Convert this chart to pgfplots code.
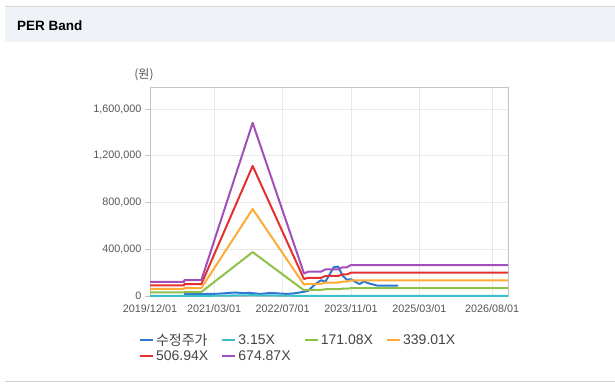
\documentclass[border=0pt]{standalone}
\usepackage{fontspec}
\setmainfont{Liberation Sans}
\newfontfamily\kr{Noto Sans CJK KR}
\usepackage{pgfplots}
\pgfplotsset{compat=1.18}
\usepackage{pgfplotstable}
\definecolor{cPrice}{HTML}{2F77D0}
\definecolor{cCyan}{HTML}{3BBFCB}
\definecolor{cGreen}{HTML}{8DC14A}
\definecolor{cOrange}{HTML}{FFAB38}
\definecolor{cRed}{HTML}{E3312F}
\definecolor{cPurple}{HTML}{A050B8}
\definecolor{titlebg}{HTML}{EFF2F7}
\definecolor{titleline}{HTML}{D2D2D2}
\definecolor{gridc}{HTML}{E8E8E8}
\definecolor{axisc}{HTML}{C4C4C4}
\definecolor{tickgray}{HTML}{555555}
\definecolor{legtext}{HTML}{444444}

\pgfplotstableread{
m b1 b2 b3 b4 b5
0 567 30794 61022 91249 121477
8 567 30794 61022 91249 121477
8 630 34216 67802 101388 134974
12 630 34216 67802 101388 134974
24 6921 375863 744805 1113747 1482689
36 904 49100 97296 145492 193688
37 970 52693 104415 156138 207860
40 970 52693 104415 156138 207860
41 1065 57825 114585 171346 228106
44 1065 57825 114585 171346 228106
45 1147 62273 123400 184526 245653
46 1147 62273 123400 184526 245653
47 1238 67234 133231 199227 265224
83.7 1238 67234 133231 199227 265224
}\bands

\pgfplotstableread{
m p
8 18000
9 17000
10 17000
11 16000
12 16000
13 17000
14 18000
15 18000
16 20000
17 22000
18 25000
19 28000
20 30000
21 27000
22 25000
23 28000
24 24000
25 20000
26 18000
27 22000
28 26000
29 25000
30 22000
31 20000
32 18000
33 20000
34 24000
35 30000
36 36000
37 45000
38 80000
39 112000
40 135000
41 122000
42 185000
43 248000
44 252000
45 175000
46 140000
47 143000
48 122000
49 102000
50 125000
51 110000
52 100000
53 90000
54 88000
55 88000
56 88000
57 88000
58 88000
}\price

\begin{document}
\begin{tikzpicture}
\path[use as bounding box] (0pt,0pt) rectangle (615pt,387pt);
\fill[titlebg] (5pt,345pt) rectangle (615pt,380pt);
\draw[titleline] (5pt,380.5pt) -- (615pt,380.5pt);
\node[anchor=west, font=\bfseries\fontsize{13.5}{15}\selectfont, inner sep=0pt] at (17pt,361pt) {PER Band};
\draw[titleline] (5pt,6pt) -- (615pt,6pt);
\node[font=\kr\fontsize{12}{14}\selectfont, text=tickgray] at (144pt,312pt) {(원)};
\begin{axis}[
  at={(150pt,91pt)}, anchor=south west,
  width=358pt, height=209pt, scale only axis,
  xmin=0, xmax=83.7, ymin=0, ymax=1790000,
  scaled y ticks=false,
  /pgf/number format/assume math mode=true,
  xtick={0,15,31,47,63,80},
  xticklabels={2019/12/01,2021/03/01,2022/07/01,2023/11/01,2025/03/01,2026/08/01},
  ytick={0,400000,800000,1200000,1600000},
  yticklabels={0,{400,000},{800,000},{1,200,000},{1,600,000}},
  grid=major, major grid style={draw=gridc, line width=0.8pt},
  axis line style={draw=axisc, line width=0.8pt},
  tick style={draw=axisc, line width=0.8pt}, tick align=outside, major tick length=5pt,
  xtick pos=bottom, ytick pos=left,
  xtick style={draw=none},
  ticklabel style={font=\fontsize{10.8}{12}\selectfont, text=tickgray},
  clip=false,
  legend columns=4,
  legend style={at={(-0.04,-0.16)}, anchor=north west, draw=none, fill=none,
    font=\fontsize{14}{16}\selectfont, text=legtext,
    /tikz/every even column/.append style={column sep=11pt}, row sep=0pt},
  legend cell align=left,
  legend image code/.code={\draw[#1,line width=2.2pt] (0pt,0pt) -- (13pt,0pt);},
  every axis plot/.append style={line join=round, line width=2pt},
]
\addplot[cPrice] table[x=m,y=p]{\price};
\addlegendentry{{\kr 수정주가}}
\addplot[cCyan] table[x=m,y=b1]{\bands};
\addlegendentry{3.15X}
\addplot[cGreen] table[x=m,y=b2]{\bands};
\addlegendentry{171.08X}
\addplot[cOrange] table[x=m,y=b3]{\bands};
\addlegendentry{339.01X}
\addplot[cRed] table[x=m,y=b4]{\bands};
\addlegendentry{506.94X}
\addplot[cPurple] table[x=m,y=b5]{\bands};
\addlegendentry{674.87X}
\end{axis}
\end{tikzpicture}
\end{document}
